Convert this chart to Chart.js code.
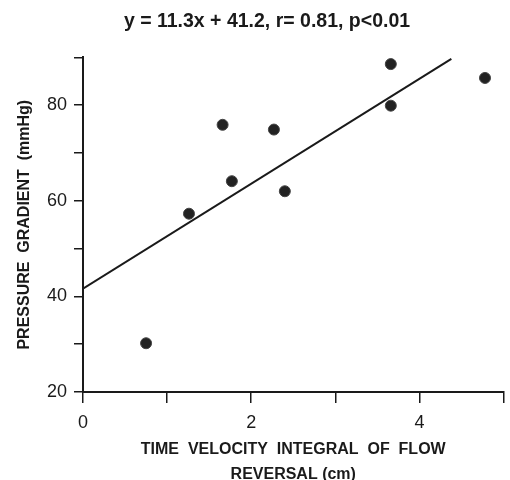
<!DOCTYPE html>
<html>
<head>
<meta charset="utf-8">
<script src="https://cdn.jsdelivr.net/npm/chart.js@4.4.1/dist/chart.umd.min.js"></script>
<style>
  html, body { margin: 0; padding: 0; background: #fff; }
  #wrap { width: 510px; height: 480px; }
</style>
</head>
<body>
<div id="wrap"><canvas id="myChart" width="510" height="480"></canvas></div>
<script>
// measured points: time velocity integral (cm) vs pressure gradient (mmHg)
const tviValues = [0.75, 1.26, 1.66, 1.77, 2.27, 2.40, 3.66, 3.66, 4.78];
const gradientValues = [30.2, 57.3, 75.9, 64.1, 74.9, 62.0, 88.6, 79.9, 85.7];

// regression line as drawn on the figure
const fitX = [0, 4.38];
const fitY = [41.6, 89.7];

const xTickLabels = ['0', '', '2', '', '4', ''];
const yTickLabels = ['20', '', '40', '', '60', '', '80', ''];

const titleText = 'y = 11.3x + 41.2, r= 0.81, p<0.01';
const xTitle = ['TIME  VELOCITY  INTEGRAL  OF  FLOW', 'REVERSAL (cm)'];
const yTitle = 'PRESSURE  GRADIENT  (mmHg)';

const ink = '#1a1a1a';
const family = '"Liberation Sans", Arial, Helvetica, sans-serif';

const toPoints = (xs, ys) => xs.map((x, i) => ({x, y: ys[i]}));

const context = document.getElementById('myChart').getContext('2d');

new Chart(context, {
  type: 'scatter',
  data: {
    datasets: [
      {
        label: 'fit',
        type: 'line',
        data: toPoints(fitX, fitY),
        borderColor: ink,
        borderWidth: 2,
        pointRadius: 0,
        fill: false,
        tension: 0
      },
      {
        label: 'patients',
        data: toPoints(tviValues, gradientValues),
        backgroundColor: '#222',
        borderColor: '#444',
        borderWidth: 1,
        pointRadius: 5.5
      }
    ]
  },
  options: {
    responsive: false,
    animation: false,
    layout: { padding: { left: 24, right: 0, top: 0, bottom: 0 } },
    plugins: {
      legend: { display: false },
      tooltip: { enabled: false },
      title: {
        display: true,
        text: titleText,
        color: ink,
        font: { family, size: 19.5, weight: 'bold', lineHeight: 1.2 },
        padding: { top: 10, bottom: 24 }
      }
    },
    scales: {
      x: {
        type: 'linear',
        min: 0,
        max: 5,
        afterFit: scale => {
          scale.height = 88;
          scale.paddingRight = 5;
        },
        ticks: {
          stepSize: 1,
          padding: 9,
          color: ink,
          font: { family, size: 18 },
          callback: (v, i) => xTickLabels[i] ?? ''
        },
        grid: {
          display: true,
          drawOnChartArea: false,
          drawTicks: true,
          tickLength: 11,
          color: ink,
          lineWidth: 1.5
        },
        border: { display: true, color: ink, width: 2 },
        title: {
          display: true,
          text: xTitle,
          color: ink,
          font: { family, size: 16, weight: 'bold', lineHeight: 25 / 16 },
          padding: { top: 0, bottom: -7 }
        }
      },
      y: {
        type: 'linear',
        min: 20,
        max: 90,
        afterFit: scale => { scale.width = 59; },
        ticks: {
          stepSize: 10,
          padding: 7,
          color: ink,
          font: { family, size: 18 },
          callback: (v, i) => yTickLabels[i] ?? ''
        },
        grid: {
          display: true,
          drawOnChartArea: false,
          drawTicks: true,
          tickLength: 9,
          color: ink,
          lineWidth: 1.5
        },
        border: { display: true, color: ink, width: 2 },
        title: {
          display: true,
          text: yTitle,
          color: ink,
          font: { family, size: 16, weight: 'bold', lineHeight: 1.2 },
          padding: { top: -8.8, bottom: 0 }
        }
      }
    }
  }
});
</script>
</body>
</html>
